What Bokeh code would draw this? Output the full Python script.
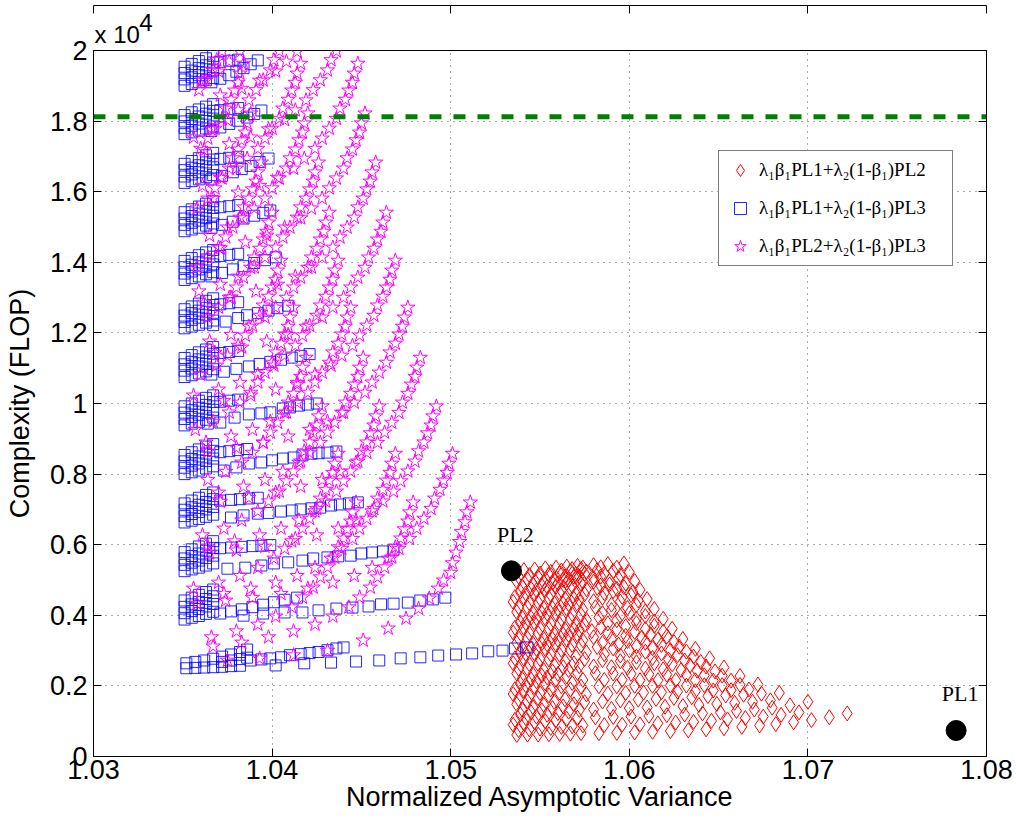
from bokeh.plotting import figure
from bokeh.models import (ColumnDataSource, LinearAxis, FixedTicker, Span, Title,
                          LabelSet, Legend, LegendItem, Range1d)
from bokeh.embed import file_html
from bokeh.resources import INLINE

# ---------------------------------------------------------------------------
# Data: x = normalized asymptotic variance, y = complexity in units of 1e4 FLOP
# ---------------------------------------------------------------------------

# lambda1*beta1*PL1 + lambda2*(1-beta1)*PL3  (one list per lambda2 level)
BLUE_X = [
    [1.0352,1.0352,1.0357,1.0357,1.0362,1.0362,1.0367,1.0367,1.0372,1.0372,1.0372,1.0377,1.0377,1.0377,1.0382,1.0382,1.0382,1.0386,1.0386,
     1.0388,1.0394,1.0399,1.0405,1.0410,1.0416,1.0421,1.0426,1.0431,1.0436,1.0440,
     1.0402,1.0418,1.0433,1.0447,1.0460,1.0472,1.0483,1.0493,1.0503,1.0512,1.0521,1.0529,1.0536,1.0543],
    [1.0351,1.0351,1.0351,1.0351,1.0355,1.0355,1.0355,1.0355,1.0359,1.0359,1.0359,1.0359,1.0363,1.0363,1.0363,1.0363,1.0367,1.0367,1.0367,1.0367,
     1.0371,1.0377,1.0383,1.0389,1.0395,1.0401,1.0407,1.0414,
     1.0384,1.0395,1.0407,1.0417,1.0426,1.0436,1.0445,1.0454,1.0461,1.0468,1.0476,1.0483,1.0490,1.0497],
    [1.0351,1.0351,1.0351,1.0351,1.0355,1.0355,1.0355,1.0355,1.0359,1.0359,1.0359,1.0359,1.0363,1.0363,1.0363,1.0363,1.0367,1.0367,1.0367,1.0367,
     1.0371,1.0377,1.0383,1.0389,1.0394,1.0399,
     1.0375,1.0385,1.0394,1.0401,1.0409,1.0417,1.0423,1.0431,1.0437,1.0444,1.0450,1.0456,1.0462,1.0468],
    [1.0351,1.0351,1.0351,1.0351,1.0355,1.0355,1.0355,1.0355,1.0359,1.0359,1.0359,1.0359,1.0363,1.0363,1.0363,1.0363,1.0367,1.0367,1.0367,1.0367,
     1.0371,1.0377,1.0382,1.0387,1.0392,
     1.0377,1.0384,1.0392,1.0398,1.0405,1.0411,1.0416,1.0422,1.0427,1.0433,1.0438,1.0443,1.0448],
    [1.0351,1.0351,1.0351,1.0351,1.0355,1.0355,1.0355,1.0355,1.0359,1.0359,1.0359,1.0359,1.0363,1.0363,1.0363,1.0363,1.0367,1.0367,1.0367,1.0367,
     1.0371,1.0376,1.0381,1.0386,
     1.0373,1.0380,1.0387,1.0394,1.0400,1.0406,1.0412,1.0417,1.0422,1.0426,1.0431,1.0436],
    [1.0351,1.0351,1.0351,1.0351,1.0355,1.0355,1.0355,1.0355,1.0359,1.0359,1.0359,1.0359,1.0363,1.0363,1.0363,1.0363,1.0367,1.0367,1.0367,1.0367,
     1.0371,1.0376,1.0381,
     1.0364,1.0371,1.0379,1.0387,1.0394,1.0399,1.0406,1.0410,1.0415,1.0420,1.0425],
    [1.0351,1.0351,1.0351,1.0351,1.0355,1.0355,1.0355,1.0355,1.0359,1.0359,1.0359,1.0359,1.0363,1.0363,1.0363,1.0363,1.0367,1.0367,1.0367,1.0367,
     1.0371,1.0376,1.0381,
     1.0366,1.0373,1.0380,1.0387,1.0393,1.0399,1.0405,1.0411,1.0416,1.0421],
    [1.0351,1.0351,1.0351,1.0351,1.0355,1.0355,1.0355,1.0355,1.0359,1.0359,1.0359,1.0359,1.0363,1.0363,1.0363,1.0363,1.0367,1.0367,1.0367,1.0367,
     1.0371,1.0376,1.0381,
     1.0367,1.0374,1.0381,1.0386,1.0392,1.0398,1.0403,1.0409],
    [1.0351,1.0351,1.0351,1.0351,1.0355,1.0355,1.0355,1.0355,1.0359,1.0359,1.0359,1.0359,1.0363,1.0363,1.0363,1.0363,1.0367,1.0367,1.0367,1.0367,
     1.0371,1.0376,1.0381,
     1.0366,1.0372,1.0378,1.0384,1.0390,1.0396,1.0402],
    [1.0351,1.0351,1.0351,1.0351,1.0355,1.0355,1.0355,1.0355,1.0359,1.0359,1.0359,1.0359,1.0363,1.0363,1.0363,1.0363,1.0367,1.0367,1.0367,1.0367,
     1.0371,1.0376,1.0381,
     1.0366,1.0372,1.0378,1.0384,1.0390,1.0395,1.0399],
    [1.0351,1.0351,1.0351,1.0351,1.0355,1.0355,1.0355,1.0355,1.0359,1.0359,1.0359,1.0359,1.0363,1.0363,1.0363,1.0363,1.0367,1.0367,1.0367,1.0367,
     1.0371,1.0376,1.0381,
     1.0366,1.0372,1.0378,1.0383,1.0388,1.0393,1.0398],
    [1.0351,1.0351,1.0351,1.0351,1.0355,1.0355,1.0355,1.0355,1.0359,1.0359,1.0359,1.0359,1.0363,1.0363,1.0363,1.0363,1.0367,1.0367,1.0367,1.0367,
     1.0371,1.0376,1.0381,
     1.0366,1.0371,1.0376,1.0381,1.0386,1.0390,1.0394],
    [1.0351,1.0351,1.0351,1.0351,1.0355,1.0355,1.0355,1.0355,1.0359,1.0359,1.0359,1.0359,1.0363,1.0363,1.0363,1.0363,1.0367,1.0367,1.0367,1.0367,
     1.0371,1.0376,1.0381,
     1.0366,1.0371,1.0376,1.0380,1.0384,1.0388,1.0392],
]
BLUE_Y = [
    [0.250,0.264,0.251,0.268,0.252,0.272,0.253,0.277,0.254,0.268,0.283,0.256,0.272,0.289,0.257,0.276,0.296,0.280,0.303,
     0.272,0.275,0.278,0.281,0.287,0.290,0.293,0.296,0.301,0.306,0.309,
     0.258,0.264,0.266,0.269,0.272,0.278,0.281,0.286,0.289,0.292,0.298,0.300,0.306,0.309],
    [0.388,0.406,0.424,0.442,0.393,0.412,0.431,0.450,0.398,0.418,0.438,0.458,0.404,0.425,0.446,0.466,0.410,0.432,0.454,0.473,
     0.405,0.411,0.417,0.423,0.430,0.437,0.444,0.450,
     0.399,0.405,0.408,0.408,0.414,0.419,0.422,0.425,0.431,0.433,0.436,0.442,0.445,0.450],
    [0.525,0.543,0.561,0.579,0.530,0.549,0.568,0.587,0.535,0.555,0.575,0.595,0.541,0.562,0.583,0.603,0.547,0.569,0.591,0.610,
     0.590,0.592,0.594,0.596,0.597,0.599,
     0.532,0.535,0.541,0.547,0.550,0.555,0.561,0.564,0.567,0.569,0.575,0.578,0.581,0.586],
    [0.663,0.681,0.699,0.717,0.668,0.687,0.706,0.725,0.673,0.693,0.713,0.733,0.679,0.700,0.721,0.741,0.685,0.707,0.729,0.748,
     0.725,0.727,0.729,0.731,0.733,
     0.677,0.683,0.688,0.690,0.694,0.697,0.700,0.703,0.705,0.711,0.714,0.717,0.720],
    [0.800,0.818,0.836,0.854,0.805,0.824,0.843,0.862,0.810,0.830,0.850,0.870,0.816,0.837,0.858,0.878,0.822,0.844,0.866,0.885,
     0.862,0.865,0.868,0.871,
     0.810,0.819,0.830,0.833,0.839,0.844,0.847,0.853,0.858,0.859,0.861,0.864],
    [0.938,0.956,0.974,0.992,0.943,0.962,0.981,1.000,0.948,0.968,0.988,1.008,0.954,0.975,0.996,1.016,0.960,0.982,1.004,1.023,
     1.005,1.008,1.011,
     0.943,0.946,0.960,0.969,0.972,0.975,0.986,0.989,0.994,0.997,1.000],
    [1.075,1.093,1.111,1.129,1.080,1.099,1.118,1.137,1.085,1.105,1.125,1.145,1.091,1.112,1.133,1.153,1.097,1.119,1.141,1.160,
     1.143,1.146,1.149,
     1.082,1.090,1.098,1.105,1.112,1.118,1.124,1.130,1.135,1.140],
    [1.213,1.231,1.249,1.267,1.218,1.237,1.256,1.275,1.223,1.243,1.263,1.283,1.229,1.250,1.271,1.291,1.235,1.257,1.279,1.298,
     1.281,1.284,1.287,
     1.222,1.232,1.242,1.250,1.256,1.263,1.270,1.277],
    [1.350,1.368,1.386,1.404,1.355,1.374,1.393,1.412,1.360,1.380,1.400,1.420,1.366,1.387,1.408,1.428,1.372,1.394,1.416,1.435,
     1.418,1.421,1.424,
     1.360,1.370,1.380,1.389,1.398,1.406,1.414],
    [1.488,1.506,1.524,1.542,1.493,1.512,1.531,1.550,1.498,1.518,1.538,1.558,1.504,1.525,1.546,1.566,1.510,1.532,1.554,1.573,
     1.556,1.559,1.562,
     1.497,1.506,1.515,1.524,1.532,1.540,1.547],
    [1.625,1.643,1.661,1.679,1.630,1.649,1.668,1.687,1.635,1.655,1.675,1.695,1.641,1.662,1.683,1.703,1.647,1.669,1.691,1.710,
     1.693,1.696,1.699,
     1.635,1.645,1.655,1.664,1.673,1.684,1.694],
    [1.763,1.781,1.799,1.817,1.768,1.787,1.806,1.825,1.773,1.793,1.813,1.833,1.779,1.800,1.821,1.841,1.785,1.807,1.829,1.848,
     1.831,1.834,1.837,
     1.772,1.782,1.792,1.801,1.810,1.820,1.830],
    [1.900,1.918,1.936,1.954,1.905,1.924,1.943,1.962,1.910,1.930,1.950,1.970,1.916,1.937,1.958,1.978,1.922,1.944,1.966,1.985,
     1.968,1.971,1.974,
     1.910,1.920,1.930,1.940,1.950,1.961,1.972],
]

# lambda1*beta1*PL2 + lambda2*(1-beta1)*PL3  (one list per curve)
STAR_X = [
    [1.0511,1.0509,1.0508,1.0506,1.0505,1.0503,1.0501,1.0500,1.0496,1.0493,1.0488,1.0482,1.0475,1.0465,1.0451,1.0431,1.0412,1.0393,1.0375],
    [1.0501,1.0499,1.0498,1.0496,1.0494,1.0491,1.0489,1.0485,1.0481,1.0477,1.0471,1.0465,1.0456,1.0446,1.0434,1.0420,1.0405,1.0389,1.0374,1.0358],
    [1.0492,1.0490,1.0489,1.0487,1.0485,1.0482,1.0480,1.0476,1.0472,1.0468,1.0462,1.0456,1.0447,1.0437,1.0425,1.0411,1.0396,1.0380,1.0365],
    [1.0483,1.0481,1.0480,1.0478,1.0476,1.0473,1.0471,1.0467,1.0463,1.0459,1.0453,1.0447,1.0438,1.0428,1.0416,1.0402,1.0387,1.0371],
    [1.0476,1.0474,1.0473,1.0471,1.0469,1.0466,1.0464,1.0460,1.0456,1.0452,1.0446,1.0440,1.0431,1.0421,1.0409,1.0395,1.0380,1.0364],
    [1.0469,1.0467,1.0466,1.0464,1.0462,1.0459,1.0457,1.0453,1.0449,1.0445,1.0439,1.0433,1.0424,1.0414,1.0402,1.0388,1.0373],
    [1.0464,1.0462,1.0461,1.0459,1.0457,1.0454,1.0452,1.0448,1.0444,1.0440,1.0434,1.0428,1.0419,1.0409,1.0397,1.0383,1.0368],
    [1.0458,1.0456,1.0455,1.0453,1.0451,1.0448,1.0446,1.0442,1.0438,1.0434,1.0428,1.0422,1.0413,1.0403,1.0391,1.0377,1.0362],
    [1.0452,1.0450,1.0449,1.0447,1.0445,1.0442,1.0440,1.0436,1.0432,1.0428,1.0422,1.0416,1.0407,1.0397,1.0385,1.0371],
    [1.0448,1.0446,1.0445,1.0443,1.0441,1.0438,1.0436,1.0432,1.0428,1.0424,1.0418,1.0412,1.0403,1.0393,1.0381,1.0367],
    [1.0436,1.0433,1.0431,1.0427,1.0423,1.0419,1.0413,1.0407,1.0398,1.0388,1.0376,1.0362],
    [1.0414,1.0408,1.0402,1.0393,1.0383,1.0371],
    [1.0479,1.0477,1.0476,1.0474,1.0472,1.0469,1.0467,1.0463,1.0459,1.0455,1.0449,1.0443,1.0434,1.0424,1.0412,1.0398,1.0383,1.0367],
    [1.0469,1.0467,1.0466,1.0464,1.0462,1.0459,1.0457,1.0453,1.0449,1.0445,1.0439,1.0433,1.0424,1.0414,1.0402,1.0388,1.0373],
    [1.0460,1.0458,1.0457,1.0455,1.0453,1.0450,1.0448,1.0444,1.0440,1.0436,1.0430,1.0424,1.0415,1.0405,1.0393,1.0379,1.0364],
    [1.0451,1.0449,1.0448,1.0446,1.0444,1.0441,1.0439,1.0435,1.0431,1.0427,1.0421,1.0415,1.0406,1.0396,1.0384,1.0370],
    [1.0444,1.0442,1.0441,1.0439,1.0437,1.0434,1.0432,1.0428,1.0424,1.0420,1.0414,1.0408,1.0399,1.0389,1.0377,1.0363],
    [1.0437,1.0435,1.0434,1.0432,1.0430,1.0427,1.0425,1.0421,1.0417,1.0413,1.0407,1.0401,1.0392,1.0382,1.0370,1.0356],
    [1.0432,1.0430,1.0429,1.0427,1.0425,1.0422,1.0420,1.0416,1.0412,1.0408,1.0402,1.0396,1.0387,1.0377,1.0365],
    [1.0426,1.0424,1.0423,1.0421,1.0419,1.0416,1.0414,1.0410,1.0406,1.0402,1.0396,1.0390,1.0381,1.0371,1.0359],
    [1.0420,1.0418,1.0417,1.0415,1.0413,1.0410,1.0408,1.0404,1.0400,1.0396,1.0390,1.0384,1.0375,1.0365],
    [1.0416,1.0414,1.0413,1.0411,1.0409,1.0406,1.0404,1.0400,1.0396,1.0392,1.0386,1.0380,1.0371,1.0361],
    [1.0404,1.0401,1.0399,1.0395,1.0391,1.0387,1.0381,1.0375,1.0366,1.0356],
    [1.0382,1.0376,1.0370,1.0361],
    [1.0447,1.0445,1.0444,1.0442,1.0440,1.0437,1.0435,1.0431,1.0427,1.0423,1.0417,1.0411,1.0402,1.0392,1.0380,1.0366],
    [1.0437,1.0435,1.0434,1.0432,1.0430,1.0427,1.0425,1.0421,1.0417,1.0413,1.0407,1.0401,1.0392,1.0382,1.0370,1.0356],
    [1.0428,1.0426,1.0425,1.0423,1.0421,1.0418,1.0416,1.0412,1.0408,1.0404,1.0398,1.0392,1.0383,1.0373,1.0361],
    [1.0419,1.0417,1.0416,1.0414,1.0412,1.0409,1.0407,1.0403,1.0399,1.0395,1.0389,1.0383,1.0374,1.0364],
    [1.0412,1.0410,1.0409,1.0407,1.0405,1.0402,1.0400,1.0396,1.0392,1.0388,1.0382,1.0376,1.0367,1.0357],
    [1.0405,1.0403,1.0402,1.0400,1.0398,1.0395,1.0393,1.0389,1.0385,1.0381,1.0375,1.0369,1.0360],
    [1.0400,1.0398,1.0397,1.0395,1.0393,1.0390,1.0388,1.0384,1.0380,1.0376,1.0370,1.0364],
    [1.0394,1.0392,1.0391,1.0389,1.0387,1.0384,1.0382,1.0378,1.0374,1.0370,1.0364,1.0358],
    [1.0388,1.0386,1.0385,1.0383,1.0381,1.0378,1.0376,1.0372,1.0368,1.0364,1.0358],
    [1.0384,1.0382,1.0381,1.0379,1.0377,1.0374,1.0372,1.0368,1.0364,1.0360],
    [1.0372,1.0369,1.0367,1.0363,1.0359],
]
STAR_Y = [
    [0.720,0.692,0.664,0.636,0.608,0.578,0.548,0.521,0.499,0.476,0.448,0.419,0.391,0.363,0.329,0.300,0.287,0.278,0.272],
    [0.858,0.830,0.804,0.782,0.756,0.731,0.702,0.674,0.646,0.617,0.589,0.561,0.535,0.512,0.493,0.476,0.461,0.450,0.442,0.433],
    [0.992,0.964,0.938,0.916,0.890,0.865,0.836,0.808,0.780,0.751,0.723,0.695,0.669,0.646,0.627,0.610,0.595,0.584,0.576],
    [1.130,1.102,1.076,1.054,1.028,1.003,0.974,0.946,0.918,0.889,0.861,0.833,0.807,0.784,0.765,0.748,0.733,0.722],
    [1.272,1.244,1.218,1.196,1.170,1.145,1.116,1.088,1.060,1.031,1.003,0.975,0.949,0.926,0.907,0.890,0.875,0.864],
    [1.405,1.377,1.351,1.329,1.303,1.278,1.249,1.221,1.193,1.164,1.136,1.108,1.082,1.059,1.040,1.023,1.008],
    [1.541,1.513,1.487,1.465,1.439,1.414,1.385,1.357,1.329,1.300,1.272,1.244,1.218,1.195,1.176,1.159,1.144],
    [1.683,1.655,1.629,1.607,1.581,1.556,1.527,1.499,1.471,1.442,1.414,1.386,1.360,1.337,1.318,1.301,1.286],
    [1.822,1.794,1.768,1.746,1.720,1.695,1.666,1.638,1.610,1.581,1.553,1.525,1.499,1.476,1.457,1.440],
    [1.963,1.935,1.909,1.887,1.861,1.836,1.807,1.779,1.751,1.722,1.694,1.666,1.640,1.617,1.598,1.581],
    [1.998,1.973,1.944,1.916,1.888,1.859,1.831,1.803,1.777,1.754,1.735,1.718],
    [1.997,1.969,1.941,1.915,1.892,1.873],
    [0.720,0.692,0.666,0.644,0.618,0.593,0.564,0.536,0.508,0.479,0.451,0.423,0.397,0.374,0.355,0.338,0.323,0.312],
    [0.858,0.830,0.804,0.782,0.756,0.731,0.702,0.674,0.646,0.617,0.589,0.561,0.535,0.512,0.493,0.476,0.461],
    [0.992,0.964,0.938,0.916,0.890,0.865,0.836,0.808,0.780,0.751,0.723,0.695,0.669,0.646,0.627,0.610,0.595],
    [1.130,1.102,1.076,1.054,1.028,1.003,0.974,0.946,0.918,0.889,0.861,0.833,0.807,0.784,0.765,0.748],
    [1.272,1.244,1.218,1.196,1.170,1.145,1.116,1.088,1.060,1.031,1.003,0.975,0.949,0.926,0.907,0.890],
    [1.405,1.377,1.351,1.329,1.303,1.278,1.249,1.221,1.193,1.164,1.136,1.108,1.082,1.059,1.040,1.023],
    [1.541,1.513,1.487,1.465,1.439,1.414,1.385,1.357,1.329,1.300,1.272,1.244,1.218,1.195,1.176],
    [1.683,1.655,1.629,1.607,1.581,1.556,1.527,1.499,1.471,1.442,1.414,1.386,1.360,1.337,1.318],
    [1.822,1.794,1.768,1.746,1.720,1.695,1.666,1.638,1.610,1.581,1.553,1.525,1.499,1.476],
    [1.963,1.935,1.909,1.887,1.861,1.836,1.807,1.779,1.751,1.722,1.694,1.666,1.640,1.617],
    [1.998,1.973,1.944,1.916,1.888,1.859,1.831,1.803,1.777,1.754],
    [1.997,1.969,1.941,1.915],
    [0.720,0.692,0.666,0.644,0.618,0.593,0.564,0.536,0.508,0.479,0.451,0.423,0.397,0.374,0.355,0.338],
    [0.858,0.830,0.804,0.782,0.756,0.731,0.702,0.674,0.646,0.617,0.589,0.561,0.535,0.512,0.493,0.476],
    [0.992,0.964,0.938,0.916,0.890,0.865,0.836,0.808,0.780,0.751,0.723,0.695,0.669,0.646,0.627],
    [1.130,1.102,1.076,1.054,1.028,1.003,0.974,0.946,0.918,0.889,0.861,0.833,0.807,0.784],
    [1.272,1.244,1.218,1.196,1.170,1.145,1.116,1.088,1.060,1.031,1.003,0.975,0.949,0.926],
    [1.405,1.377,1.351,1.329,1.303,1.278,1.249,1.221,1.193,1.164,1.136,1.108,1.082],
    [1.541,1.513,1.487,1.465,1.439,1.414,1.385,1.357,1.329,1.300,1.272,1.244],
    [1.683,1.655,1.629,1.607,1.581,1.556,1.527,1.499,1.471,1.442,1.414,1.386],
    [1.822,1.794,1.768,1.746,1.720,1.695,1.666,1.638,1.610,1.581,1.553],
    [1.963,1.935,1.909,1.887,1.861,1.836,1.807,1.779,1.751,1.722],
    [1.998,1.973,1.944,1.916,1.888],
]

# lambda1*beta1*PL1 + lambda2*(1-beta1)*PL2  (one list per lambda1 row)
RED_X = [
    [1.0535,1.0541,1.0547,1.0553,1.0559,1.0565,1.0571,1.0580,1.0588,1.0597],
    [1.0537,1.0543,1.0549,1.0555,1.0561,1.0567,1.0573,1.0582,1.0591,1.0600],
    [1.0539,1.0545,1.0551,1.0557,1.0563,1.0569,1.0575,1.0584,1.0594,1.0603],
    [1.0535,1.0541,1.0547,1.0553,1.0559,1.0565,1.0571,1.0580,1.0589,1.0597,1.0606],
    [1.0537,1.0543,1.0549,1.0555,1.0561,1.0567,1.0573,1.0582,1.0591,1.0601,1.0610],
    [1.0539,1.0545,1.0551,1.0557,1.0563,1.0569,1.0575,1.0585,1.0595,1.0604,1.0614],
    [1.0535,1.0541,1.0547,1.0553,1.0559,1.0565,1.0571,1.0581,1.0590,1.0600,1.0609,1.0619],
    [1.0537,1.0543,1.0549,1.0555,1.0561,1.0567,1.0573,1.0583,1.0593,1.0604,1.0614,1.0624],
    [1.0539,1.0545,1.0551,1.0557,1.0563,1.0569,1.0575,1.0584,1.0593,1.0603,1.0612,1.0621,1.0630],
    [1.0535,1.0541,1.0547,1.0553,1.0559,1.0565,1.0571,1.0580,1.0590,1.0599,1.0609,1.0618,1.0628,1.0637],
    [1.0537,1.0543,1.0549,1.0555,1.0561,1.0567,1.0573,1.0582,1.0591,1.0600,1.0609,1.0618,1.0627,1.0636,1.0645],
    [1.0539,1.0545,1.0551,1.0557,1.0563,1.0569,1.0575,1.0585,1.0595,1.0604,1.0614,1.0624,1.0634,1.0643,1.0653],
    [1.0535,1.0541,1.0547,1.0553,1.0559,1.0565,1.0571,1.0581,1.0591,1.0601,1.0611,1.0621,1.0632,1.0642,1.0652,1.0662],
    [1.0537,1.0543,1.0549,1.0555,1.0561,1.0567,1.0573,1.0583,1.0593,1.0603,1.0613,1.0623,1.0632,1.0642,1.0652,1.0662,1.0672],
    [1.0539,1.0545,1.0551,1.0557,1.0563,1.0569,1.0575,1.0585,1.0595,1.0605,1.0615,1.0625,1.0635,1.0644,1.0654,1.0664,1.0674,1.0684],
    [1.0535,1.0541,1.0547,1.0553,1.0559,1.0565,1.0571,1.0581,1.0591,1.0601,1.0611,1.0621,1.0631,1.0641,1.0651,1.0660,1.0670,1.0680,1.0690,1.0700],
    [1.0537,1.0543,1.0549,1.0555,1.0561,1.0567,1.0573,1.0583,1.0593,1.0603,1.0613,1.0623,1.0633,1.0643,1.0653,1.0663,1.0673,1.0682,1.0692,1.0702,1.0712,1.0722],
    [1.0538,1.0544,1.0550,1.0556,1.0562,1.0568,1.0574,1.0584,1.0593],
    [1.0540,1.0546,1.0552,1.0558,1.0564,1.0570,1.0576,1.0586,1.0595],
    [1.0536,1.0542,1.0548,1.0554,1.0560,1.0566,1.0572,1.0580,1.0589,1.0598],
    [1.0538,1.0544,1.0550,1.0556,1.0562,1.0568,1.0574,1.0584,1.0593,1.0602],
    [1.0540,1.0546,1.0552,1.0558,1.0564,1.0570,1.0576,1.0586,1.0596,1.0605],
    [1.0536,1.0542,1.0548,1.0554,1.0560,1.0566,1.0572,1.0580,1.0590,1.0599,1.0609],
    [1.0538,1.0544,1.0550,1.0556,1.0562,1.0568,1.0574,1.0585,1.0595,1.0604,1.0614],
    [1.0540,1.0546,1.0552,1.0558,1.0564,1.0570,1.0576,1.0588,1.0598,1.0609,1.0619],
    [1.0536,1.0542,1.0548,1.0554,1.0560,1.0566,1.0572,1.0579,1.0588,1.0598,1.0607,1.0616,1.0625],
    [1.0538,1.0544,1.0550,1.0556,1.0562,1.0568,1.0574,1.0585,1.0594,1.0604,1.0613,1.0623,1.0632],
    [1.0540,1.0546,1.0552,1.0558,1.0564,1.0570,1.0576,1.0586,1.0595,1.0604,1.0613,1.0622,1.0631,1.0640],
    [1.0536,1.0542,1.0548,1.0554,1.0560,1.0566,1.0572,1.0580,1.0590,1.0599,1.0609,1.0619,1.0629,1.0638,1.0648],
    [1.0538,1.0544,1.0550,1.0556,1.0562,1.0568,1.0574,1.0586,1.0596,1.0606,1.0616,1.0626,1.0637,1.0647,1.0657],
    [1.0540,1.0546,1.0552,1.0558,1.0564,1.0570,1.0576,1.0588,1.0598,1.0608,1.0618,1.0627,1.0637,1.0647,1.0657,1.0667],
    [1.0536,1.0542,1.0548,1.0554,1.0560,1.0566,1.0572,1.0580,1.0590,1.0600,1.0610,1.0620,1.0630,1.0639,1.0649,1.0659,1.0669,1.0679],
    [1.0538,1.0544,1.0550,1.0556,1.0562,1.0568,1.0574,1.0586,1.0596,1.0606,1.0616,1.0626,1.0636,1.0646,1.0655,1.0665,1.0675,1.0685,1.0695],
]
RED_Y = [
    [0.525,0.528,0.530,0.533,0.535,0.538,0.540,0.542,0.545,0.547],
    [0.496,0.502,0.508,0.514,0.519,0.525,0.531,0.528,0.525,0.522],
    [0.467,0.475,0.484,0.492,0.500,0.509,0.517,0.510,0.504,0.497],
    [0.438,0.449,0.460,0.471,0.481,0.492,0.503,0.495,0.488,0.480,0.472],
    [0.409,0.422,0.436,0.449,0.462,0.476,0.489,0.478,0.468,0.457,0.446],
    [0.380,0.393,0.407,0.420,0.433,0.447,0.460,0.450,0.439,0.429,0.418],
    [0.351,0.364,0.378,0.391,0.404,0.418,0.431,0.423,0.415,0.406,0.398,0.390],
    [0.322,0.335,0.349,0.362,0.375,0.389,0.402,0.394,0.386,0.378,0.370,0.362],
    [0.293,0.306,0.320,0.333,0.346,0.360,0.373,0.366,0.360,0.353,0.346,0.340,0.333],
    [0.264,0.277,0.291,0.304,0.317,0.331,0.344,0.338,0.333,0.327,0.322,0.316,0.311,0.305],
    [0.235,0.248,0.262,0.275,0.288,0.302,0.315,0.310,0.306,0.301,0.297,0.292,0.287,0.283,0.278],
    [0.206,0.218,0.229,0.241,0.253,0.264,0.276,0.273,0.270,0.267,0.264,0.261,0.258,0.255,0.252],
    [0.177,0.187,0.197,0.207,0.217,0.227,0.237,0.236,0.235,0.234,0.233,0.232,0.231,0.230,0.229,0.228],
    [0.148,0.156,0.165,0.173,0.181,0.190,0.198,0.199,0.199,0.200,0.200,0.201,0.201,0.202,0.202,0.203,0.204],
    [0.119,0.125,0.131,0.137,0.142,0.148,0.154,0.156,0.159,0.161,0.163,0.166,0.168,0.171,0.173,0.175,0.178,0.180],
    [0.090,0.093,0.097,0.100,0.103,0.107,0.110,0.111,0.112,0.113,0.115,0.117,0.119,0.122,0.125,0.129,0.133,0.138,0.145,0.155],
    [0.061,0.062,0.062,0.063,0.064,0.065,0.066,0.066,0.067,0.068,0.070,0.072,0.074,0.077,0.080,0.084,0.088,0.092,0.097,0.103,0.111,0.122],
    [0.510,0.514,0.518,0.523,0.527,0.531,0.535,0.536,0.535],
    [0.481,0.488,0.495,0.502,0.510,0.517,0.524,0.518,0.514],
    [0.452,0.462,0.471,0.481,0.491,0.500,0.510,0.505,0.498,0.490],
    [0.423,0.435,0.447,0.459,0.471,0.483,0.495,0.484,0.475,0.466],
    [0.394,0.407,0.421,0.434,0.447,0.461,0.474,0.463,0.452,0.442],
    [0.365,0.378,0.392,0.405,0.418,0.432,0.445,0.440,0.430,0.421,0.411],
    [0.336,0.349,0.363,0.376,0.389,0.403,0.416,0.406,0.398,0.390,0.382],
    [0.307,0.320,0.334,0.347,0.360,0.374,0.387,0.377,0.369,0.361,0.354],
    [0.278,0.291,0.305,0.318,0.331,0.345,0.358,0.355,0.349,0.342,0.337,0.331,0.324],
    [0.249,0.262,0.276,0.289,0.302,0.316,0.329,0.322,0.317,0.312,0.307,0.301,0.297],
    [0.220,0.233,0.245,0.258,0.270,0.283,0.295,0.290,0.286,0.283,0.279,0.275,0.272,0.268],
    [0.191,0.202,0.213,0.224,0.234,0.245,0.256,0.255,0.253,0.251,0.249,0.247,0.245,0.243,0.241],
    [0.162,0.171,0.180,0.190,0.199,0.208,0.217,0.217,0.217,0.216,0.216,0.216,0.216,0.215,0.215],
    [0.133,0.140,0.147,0.155,0.162,0.169,0.176,0.178,0.180,0.181,0.182,0.184,0.185,0.187,0.188,0.190],
    [0.104,0.109,0.113,0.118,0.123,0.127,0.132,0.133,0.135,0.137,0.139,0.141,0.143,0.146,0.149,0.152,0.155,0.159],
    [0.075,0.077,0.079,0.081,0.084,0.086,0.088,0.089,0.090,0.091,0.094,0.096,0.098,0.101,0.105,0.109,0.113,0.118,0.125],
]

# single-layer reference schemes
PL_NAMES = ["PL2", "PL1"]
PL_X = [1.0534, 1.0783]
PL_Y = [0.526, 0.0737]

# complexity budget (1e4 FLOP)
BUDGET_Y = 1.812

X_TICKS = [1.03, 1.04, 1.05, 1.06, 1.07, 1.08]
X_TICK_LABELS = ["1.03", "1.04", "1.05", "1.06", "1.07", "1.08"]
Y_TICKS = [0, 0.2, 0.4, 0.6, 0.8, 1.0, 1.2, 1.4, 1.6, 1.8, 2.0]
Y_TICK_LABELS = ["0", "0.2", "0.4", "0.6", "0.8", "1", "1.2", "1.4", "1.6", "1.8", "2"]

LEGEND_LABELS = ["λ₁β₁PL1+λ₂(1-β₁)PL2",
                 "λ₁β₁PL1+λ₂(1-β₁)PL3",
                 "λ₁β₁PL2+λ₂(1-β₁)PL3"]


def flat(groups):
    return [v for g in groups for v in g]


SANS = "Liberation Sans"
SERIF = "Liberation Serif"
FS = "27px"

p = figure(frame_width=893, frame_height=706,
           x_range=Range1d(1.03, 1.08), y_range=Range1d(0, 2),
           min_border_left=93, min_border_right=30, min_border_top=50, min_border_bottom=64,
           output_backend="svg", toolbar_location=None,
           background_fill_color="white", border_fill_color="white")
p.outline_line_color = "black"
p.outline_line_width = 1

# scale note "x 10^4" above the y axis: exponent on a raised first line
p.add_layout(Title(text="\u2007\u2007\u2007\u20094\nx 10", align="left", text_font=SANS,
                   text_font_size="24px", text_font_style="normal", text_color="black",
                   text_line_height=0.45, standoff=4, offset=1),
             "above")

# axes: labelled bottom/left, tick-only top/right (box style)
for ax in (p.xaxis[0], p.yaxis[0]):
    ax.axis_line_color = "black"
    ax.major_tick_line_color = "black"
    ax.major_tick_in = 8
    ax.major_tick_out = 0
    ax.minor_tick_line_color = None
    ax.major_label_text_font = SANS
    ax.major_label_text_font_size = FS
    ax.major_label_text_color = "black"
    ax.axis_label_text_font = SANS
    ax.axis_label_text_font_size = FS
    ax.axis_label_text_font_style = "normal"
    ax.axis_label_text_color = "black"

p.xaxis[0].ticker = FixedTicker(ticks=X_TICKS, minor_ticks=[])
p.xaxis[0].major_label_overrides = dict(zip(X_TICKS, X_TICK_LABELS))
p.xaxis[0].major_label_standoff = 3
p.xaxis[0].axis_label = "Normalized Asymptotic Variance"
p.xaxis[0].axis_label_standoff = 0

p.yaxis[0].ticker = FixedTicker(ticks=Y_TICKS, minor_ticks=[])
p.yaxis[0].major_label_overrides = dict(zip(Y_TICKS, Y_TICK_LABELS))
p.yaxis[0].major_label_standoff = 6
p.yaxis[0].axis_label = "Complexity (FLOP)"
p.yaxis[0].axis_label_standoff = 12

for loc, ticks in (("above", X_TICKS), ("right", Y_TICKS)):
    ax = LinearAxis(ticker=FixedTicker(ticks=ticks, minor_ticks=[]),
                    major_label_text_font_size="1px", major_label_text_color=None,
                    major_label_standoff=0,
                    axis_line_color="black", major_tick_line_color="black",
                    major_tick_in=8, major_tick_out=0, minor_tick_line_color=None)
    p.add_layout(ax, loc)

for g, ticks in ((p.xgrid[0], X_TICKS), (p.ygrid[0], Y_TICKS)):
    g.ticker = FixedTicker(ticks=ticks, minor_ticks=[])
    g.grid_line_color = "#333333"
    g.grid_line_dash = "1 5"
    g.grid_line_width = 1
    g.grid_line_alpha = 0.8

red_src = ColumnDataSource(dict(x=flat(RED_X), y=flat(RED_Y)))
blue_src = ColumnDataSource(dict(x=flat(BLUE_X), y=flat(BLUE_Y)))
star_src = ColumnDataSource(dict(x=flat(STAR_X), y=flat(STAR_Y)))

r_red = p.scatter("x", "y", source=red_src, marker="diamond", size=15,
                  fill_color=None, line_color="#ff0000", line_width=1)
r_blue = p.scatter("x", "y", source=blue_src, marker="square", size=11,
                   fill_color=None, line_color="#0000ff", line_width=1, line_alpha=0.85)
r_star = p.scatter("x", "y", source=star_src, marker="star", size=15,
                   fill_color=None, line_color="#ff00ff", line_width=1)

pl_src = ColumnDataSource(dict(x=PL_X, y=PL_Y, name=PL_NAMES))
p.scatter("x", "y", source=pl_src, marker="circle", size=20,
          fill_color="black", line_color="black")
p.add_layout(LabelSet(x="x", y="y", text="name", source=pl_src, y_offset=24, x_offset=4,
                      text_align="center", text_baseline="bottom",
                      text_font=SERIF, text_font_size="22px", text_color="black"))

p.add_layout(Span(location=BUDGET_Y, dimension="width", line_color="#008000",
                  line_width=5, line_dash="12 12"))

legend = Legend(items=[LegendItem(label=LEGEND_LABELS[0], renderers=[r_red]),
                       LegendItem(label=LEGEND_LABELS[1], renderers=[r_blue]),
                       LegendItem(label=LEGEND_LABELS[2], renderers=[r_star])],
                location=(625, 490))
legend.label_text_font = SERIF
legend.label_text_font_size = "19px"
legend.label_text_color = "black"
legend.glyph_width = 34
legend.glyph_height = 30
legend.label_height = 20
legend.label_width = 189
legend.label_standoff = 2
legend.spacing = 8
legend.padding = 4
legend.margin = 0
legend.border_line_color = "black"
legend.border_line_width = 1
legend.background_fill_color = "white"
legend.background_fill_alpha = 1
p.add_layout(legend)

open("out.html", "w").write(file_html(p, INLINE))
